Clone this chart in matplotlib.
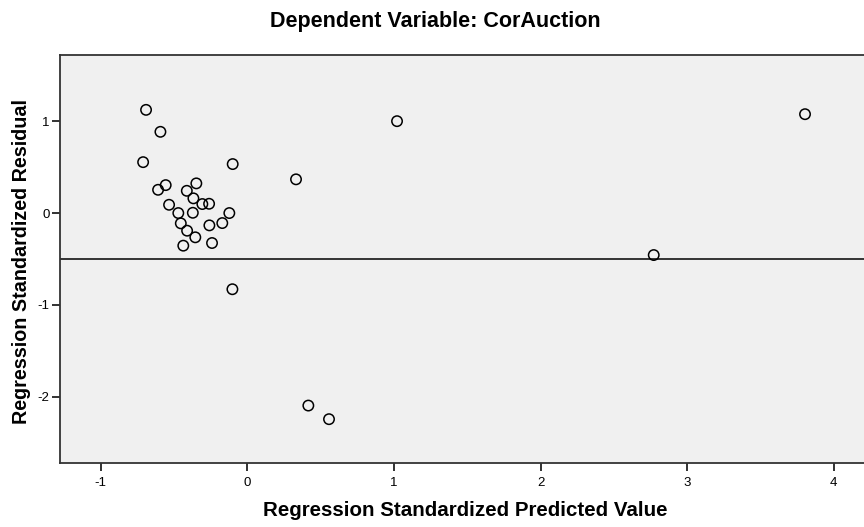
import matplotlib
matplotlib.use("Agg")
import matplotlib.pyplot as plt

plt.rcParams['font.family'] = ['Liberation Sans', 'DejaVu Sans']

# Standardized predicted values and residuals
pred = [-0.691, -0.593, -0.711, -0.100, 0.332, -0.557, -0.609, -0.348, -0.413,
        -0.368, -0.307, -0.261, -0.534, -0.471, -0.372, -0.123, -0.171, -0.259,
        -0.454, -0.411, -0.355, -0.241, -0.437, -0.102, 0.416, 0.557, 1.021,
        2.772, 3.804]
resid = [1.123, 0.884, 0.554, 0.533, 0.367, 0.304, 0.253, 0.323, 0.242,
         0.160, 0.098, 0.101, 0.090, 0.000, 0.003, 0.000, -0.109, -0.134,
         -0.112, -0.192, -0.264, -0.326, -0.355, -0.829, -2.095, -2.243, 1.000,
         -0.457, 1.076]
ref_line = -0.5
xticks = [-1, 0, 1, 2, 3, 4]
yticks = [-2, -1, 0, 1]

W, H = 864, 527
fig = plt.figure(figsize=(W / 100, H / 100), dpi=100)

x_lo, x_hi = -1.278, 4.25
y_lo, y_hi = -2.72, 1.72
left_px, top_px, bottom_px = 60, 55, 463
px_per_x = 146.6
width_px = (x_hi - x_lo) * px_per_x
height_px = bottom_px - top_px
ax = fig.add_axes([left_px / W, (H - bottom_px) / H, width_px / W,
                   height_px / H])
ax.set_facecolor('#f0f0f0')

ax.scatter(pred, resid, s=56, facecolors='none', edgecolors='black',
           linewidths=1.1, zorder=3)
ax.axhline(ref_line, color='black', linewidth=1.1, zorder=2)

ax.set_xlim(x_lo, x_hi)
ax.set_ylim(y_lo, y_hi)
ax.set_xticks(xticks)
ax.set_yticks(yticks)
ax.set_xticklabels([str(t) for t in xticks])
ax.set_yticklabels([str(t) for t in yticks])
ax.tick_params(axis='both', direction='out', length=6, width=1.3,
               color='#222222', labelsize=9.5)
ax.tick_params(axis='x', pad=4)
ax.tick_params(axis='y', pad=1.5)

for side in ('left', 'top', 'bottom', 'right'):
    ax.spines[side].set_color('#333333')
    ax.spines[side].set_linewidth(1.3)

fig.text(465 / W, 1 - 516 / H, 'Regression Standardized Predicted Value',
         ha='center', va='baseline', fontsize=14.8, fontweight='bold')
fig.text(27 / W, 1 - 261.5 / H, 'Regression Standardized Residual',
         ha='center', va='baseline', rotation=90, rotation_mode='anchor',
         fontsize=14.2, fontweight='bold')
fig.text(435 / W, 1 - 26.7 / H, 'Dependent Variable: CorAuction', ha='center',
         va='baseline', fontsize=15.5, fontweight='bold')

fig.savefig('out.png', dpi=100)
